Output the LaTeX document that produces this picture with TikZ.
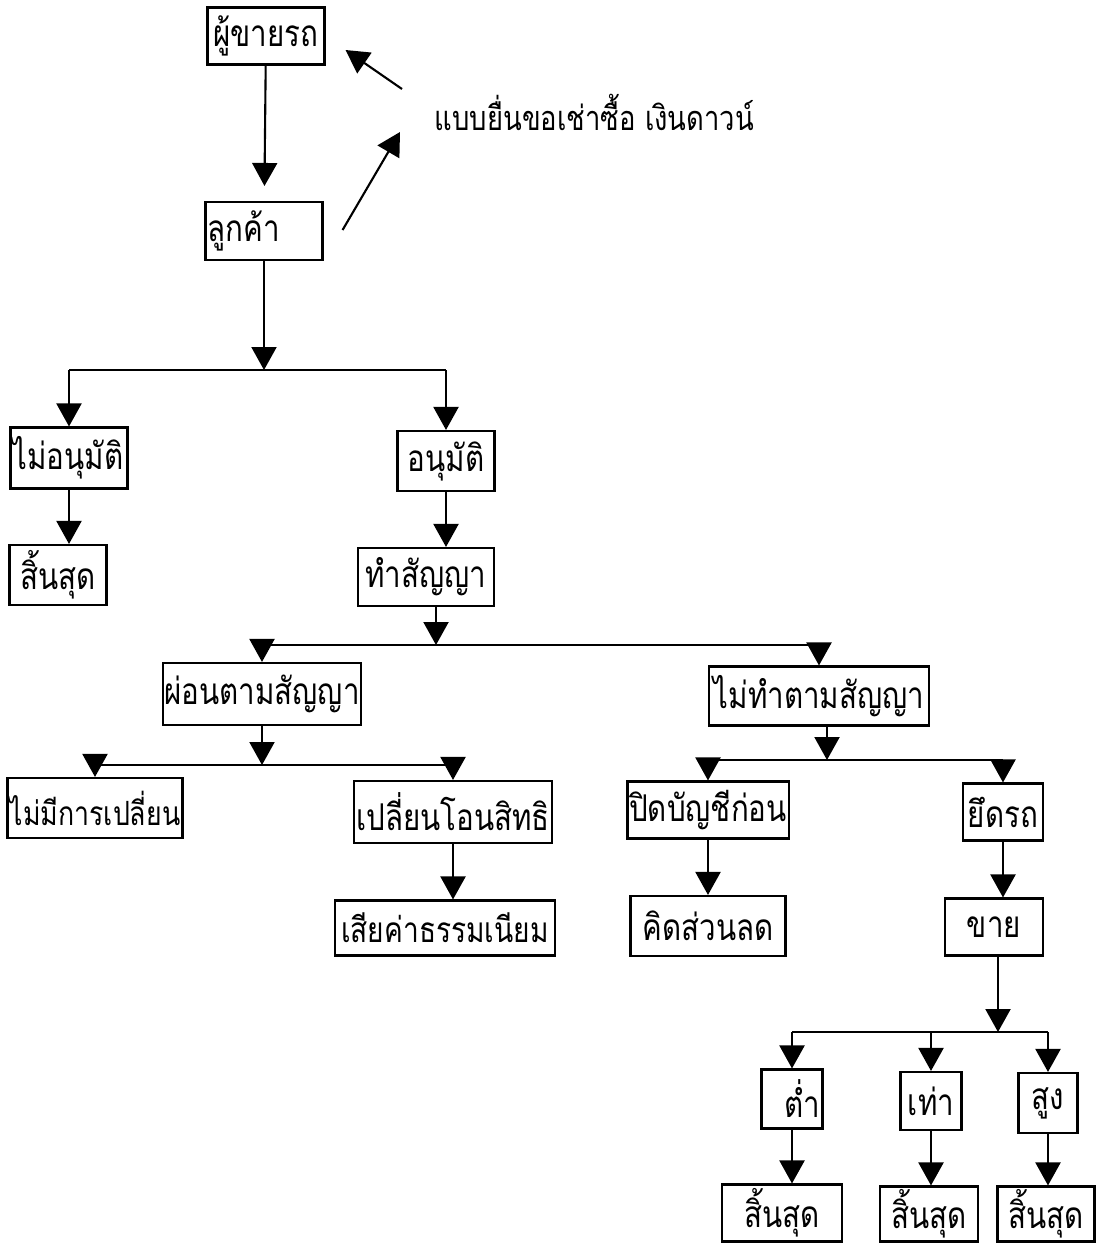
\documentclass[tikz,border=0pt]{standalone}
\usepackage{fontspec}
\setmainfont[Script=Thai,FakeStretch=0.8]{Loma}
\usetikzlibrary{arrows.meta,calc}

\begin{document}
\begin{tikzpicture}[x=0.02cm,y=-0.02cm,line width=1.2pt,
  box/.style={rectangle,draw,inner sep=1pt,font=\fontsize{21}{24}\selectfont},
  arr/.style={-{Triangle[width=0.5cm,length=0.46cm]}}]
\useasboundingbox (0,0) rectangle (1096,1245);
\node [box,minimum width=2.34cm,minimum height=1.14cm] (seller) at (266,36) {ผู้ขายรถ};
\node [box,minimum width=2.34cm,minimum height=1.16cm,text width=2.26cm,align=left] (cust) at (264,231) {ลูกค้า};
\node [font=\fontsize{19.5}{23}\selectfont,anchor=west] (form) at (428,112) {แบบยื่นขอเช่าซื้อ เงินดาวน์};
\node [box,minimum width=2.34cm,minimum height=1.22cm,text width=2.26cm,align=left] (noappr) at (69,458) {ไม่อนุมัติ};
\node [box,minimum width=1.94cm,minimum height=1.2cm] (appr) at (446,461) {อนุมัติ};
\node [box,minimum width=1.94cm,minimum height=1.2cm] (end1) at (58,575) {สิ้นสุด};
\node [box,minimum width=2.72cm,minimum height=1.16cm] (contract) at (426,577) {ทำสัญญา};
\node [box,minimum width=3.9cm,minimum height=1.24cm] (pay) at (262,694) {ผ่อนตามสัญญา};
\node [box,minimum width=4.4cm,minimum height=1.18cm] (breach) at (819,696) {ไม่ทำตามสัญญา};
\node [box,minimum width=3.5cm,minimum height=1.2cm,font=\fontsize{19}{22}\selectfont] (nochange) at (95,808) {ไม่มีการเปลี่ยน};
\node [box,minimum width=3.92cm,minimum height=1.24cm] (transfer) at (453,812) {เปลี่ยนโอนสิทธิ};
\node [box,minimum width=3.12cm,minimum height=1.14cm] (close) at (708,810) {ปิดบัญชีก่อน};
\node [box,minimum width=1.6cm,minimum height=1.14cm] (seize) at (1003,812) {ยึดรถ};
\node [box,minimum width=4.4cm,minimum height=1.1cm,font=\fontsize{20}{23}\selectfont] (fee) at (445,928) {เสียค่าธรรมเนียม};
\node [box,minimum width=3.1cm,minimum height=1.2cm] (disc) at (708,926) {คิดส่วนลด};
\node [box,minimum width=1.96cm,minimum height=1.14cm] (sell) at (994,927) {ขาย};
\node [box,minimum width=1.22cm,minimum height=1.18cm,text width=1.14cm,align=right] (low) at (792,1099) {ต่ำ};
\node [box,minimum width=1.22cm,minimum height=1.16cm] (eq) at (931,1101) {เท่า};
\node [box,minimum width=1.18cm,minimum height=1.2cm] (high) at (1048,1103) {สูง};
\node [box,minimum width=2.4cm,minimum height=1.14cm] (end2) at (782,1213) {สิ้นสุด};
\node [box,minimum width=1.96cm,minimum height=1.1cm] (end3) at (929,1214) {สิ้นสุด};
\node [box,minimum width=1.94cm,minimum height=1.1cm] (end4) at (1046,1214) {สิ้นสุด};
\coordinate (j1) at (264,370);
\coordinate (j2) at (436,645);
\coordinate (j3) at (262,765);
\coordinate (j5) at (827,760);
\coordinate (j6) at (998,1032);
\coordinate (s1) at ($(seller.east)+(20,14)$);
\coordinate (f1) at ($(form.west)+(-26,-23)$);
\coordinate (c1) at ($(cust.east)+(19,-1)$);
\coordinate (f2) at ($(form.west)+(-28,20)$);
\draw [arr] (f1) -- (s1);
\draw [arr] (c1) -- (f2);
\draw [arr,shorten >=0.3cm] (seller) -- (cust);
\draw [arr] (cust) -- (j1);
\draw (j1 -| noappr) -- (j1 -| appr);
\draw [arr] (j1 -| noappr) -- (noappr);
\draw [arr] (j1 -| appr) -- (appr);
\draw [arr] (noappr.south) -- (noappr.south |- end1.north);
\draw [arr] (appr.south) -- (appr.south |- contract.north);
\draw [arr] (j2 |- contract.south) -- (j2);
\draw (j2 -| pay) -- (j2 -| breach);
\draw [arr] (j2 -| pay) -- (pay);
\draw [arr] (j2 -| breach) -- (breach);
\draw [arr] (pay) -- (j3);
\draw (j3 -| nochange) -- (j3 -| transfer);
\draw [arr] (j3 -| nochange) -- (nochange);
\draw [arr] (j3 -| transfer) -- (transfer);
\draw [arr] (transfer.south) -- (transfer.south |- fee.north);
\draw [arr] (j5 |- breach.south) -- (j5);
\draw (j5 -| close) -- (j5 -| seize);
\draw [arr] (j5 -| close) -- (close);
\draw [arr] (j5 -| seize) -- (seize);
\draw [arr] (close) -- (close |- disc.north);
\draw [arr] (seize.south) -- (seize.south |- sell.north);
\draw [arr] (j6 |- sell.south) -- (j6);
\draw (j6 -| low) -- (j6 -| high);
\draw [arr] (j6 -| low) -- (low);
\draw [arr] (j6 -| eq) -- (eq);
\draw [arr] (j6 -| high) -- (high);
\draw [arr] (low.south) -- (low.south |- end2.north);
\draw [arr] (eq.south) -- (eq.south |- end3.north);
\draw [arr] (high.south) -- (high.south |- end4.north);
\end{tikzpicture}
\end{document}
